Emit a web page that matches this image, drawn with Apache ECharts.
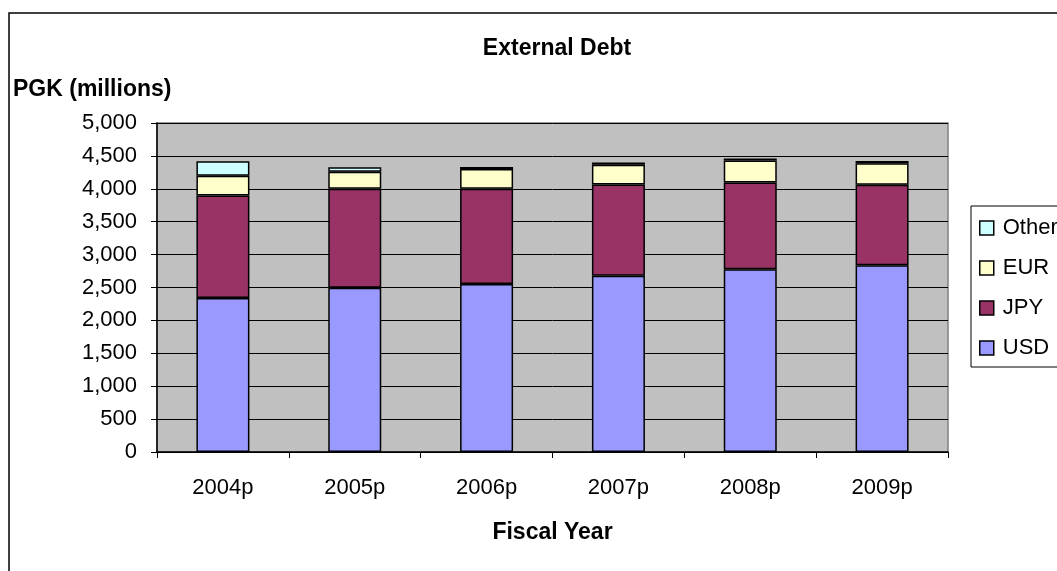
<!DOCTYPE html>
<html>
<head>
<meta charset="utf-8">
<title>External Debt</title>
<script src="https://cdn.jsdelivr.net/npm/echarts@6/dist/echarts.min.js"></script>
<style>
  html, body { margin: 0; padding: 0; background: #ffffff; }
  #chart { width: 1057px; height: 571px; }
</style>
</head>
<body>
<div id="chart"></div>
<script>
// Fiscal years on the category axis
const years = ['2004p', '2005p', '2006p', '2007p', '2008p', '2009p'];

// Outstanding external debt by currency, PGK millions
const usd   = [2340, 2495, 2555, 2680, 2778, 2838];
const jpy   = [1560, 1505, 1445, 1385, 1318, 1223];
const eur   = [300, 258, 300, 300, 334, 328];
const other = [220, 70, 30, 35, 30, 35];

// Value axis settings
const yMin = 0;
const yMax = 5000;
const yStep = 500;

const FONT = '"Liberation Sans", Arial, sans-serif';
const chart = echarts.init(document.getElementById('chart'), null, { renderer: 'canvas' });

function barSeries(name, data, color) {
  return {
    name: name,
    type: 'bar',
    stack: 'debt',
    data: data,
    barWidth: 53,
    itemStyle: { color: color, borderColor: '#000000', borderWidth: 1.5 },
    emphasis: { disabled: true }
  };
}

const option = {
  animation: false,
  backgroundColor: '#ffffff',
  title: {
    text: 'External Debt',
    left: 552,
    textAlign: 'center',
    top: 32,
    textStyle: { fontFamily: FONT, fontSize: 23, fontWeight: 'bold', color: '#000000' }
  },
  legend: {
    orient: 'vertical',
    left: 979,
    top: 217,
    padding: 0,
    itemWidth: 14,
    itemHeight: 14,
    itemGap: 18,
    icon: 'rect',
    data: ['Other', 'EUR', 'JPY', 'USD'],
    textStyle: {
      fontFamily: FONT, fontSize: 22, color: '#000000',
      overflow: 'none', width: 200, padding: [0, 0, 0, 4]
    },
    itemStyle: { borderColor: '#000000', borderWidth: 1.5 }
  },
  grid: {
    left: 157,
    right: 109,
    top: 123,
    bottom: 119,
    show: true,
    backgroundColor: '#c0c0c0',
    borderColor: '#808080',
    borderWidth: 1.5
  },
  xAxis: {
    type: 'category',
    data: years,
    name: 'Fiscal Year',
    nameLocation: 'middle',
    nameGap: 69,
    nameTextStyle: { fontFamily: FONT, fontSize: 23, fontWeight: 'bold', color: '#000000' },
    axisLine: { lineStyle: { color: '#000000', width: 1.5 } },
    axisTick: { show: true, inside: false, length: 6, alignWithLabel: false, lineStyle: { color: '#000000' } },
    axisLabel: { fontFamily: FONT, fontSize: 22, color: '#000000', margin: 25 },
    splitLine: { show: false }
  },
  yAxis: {
    type: 'value',
    min: yMin,
    max: yMax,
    interval: yStep,
    axisLine: { show: true, lineStyle: { color: '#000000', width: 1.5 } },
    axisTick: { show: true, inside: false, length: 6, lineStyle: { color: '#000000' } },
    axisLabel: {
      fontFamily: FONT, fontSize: 22, color: '#000000', margin: 20,
      formatter: function (v) { return v.toLocaleString('en-US'); }
    },
    splitLine: { show: true, lineStyle: { color: '#000000', width: 1 } }
  },
  graphic: [
    {
      type: 'rect',
      silent: true,
      z: -10,
      shape: { x: 9, y: 13, width: 1100, height: 600 },
      style: { fill: 'none', stroke: '#000000', lineWidth: 1.5 }
    },
    {
      type: 'rect',
      silent: true,
      z: 10,
      shape: { x: 971, y: 206, width: 120, height: 161 },
      style: { fill: 'none', stroke: '#000000', lineWidth: 1 }
    },
    {
      type: 'text',
      left: 13,
      top: 78,
      style: {
        text: 'PGK (millions)',
        fontFamily: FONT, fontSize: 23, fontWeight: 'bold', fill: '#000000'
      }
    }
  ],
  series: [
    barSeries('USD', usd, '#9999ff'),
    barSeries('JPY', jpy, '#993366'),
    barSeries('EUR', eur, '#ffffcc'),
    barSeries('Other', other, '#ccffff')
  ]
};

chart.setOption(option);
</script>
</body>
</html>
